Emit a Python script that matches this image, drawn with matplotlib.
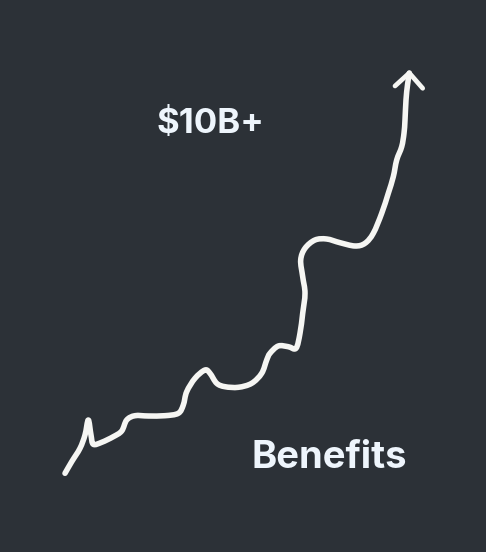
import matplotlib
matplotlib.use('Agg')
import matplotlib.pyplot as plt
from matplotlib.path import Path
from matplotlib.patches import PathPatch

# ====== SETTINGS ======
bg_color = '#2c3137'
line_color = '#f6f6f3'
text_color = '#eef5fc'
# ======================

# hand-drawn growth curve, traced in pixel coords (y grows downward)
curve_x = [65, 71.7, 80, 85, 88.3, 91, 93.3, 101.7, 113.3, 121.7, 126.7, 135, 148.3, 165,
           178.3, 183.3, 186.7, 195, 205, 210, 216.7, 225, 238.3, 251.7, 261.7, 266.7,
           270, 278.3, 288.3, 296, 300, 302.7, 305, 302.7, 300.7, 305, 315, 326.7, 340,
           355, 365, 373.3, 381.7, 388.3, 393.3, 396.7, 401.7, 404, 405, 406, 407.5, 409.3]
curve_y = [473.3, 461.7, 448.3, 435, 420, 435, 444.3, 442.3, 436.7, 431, 420, 415.7, 416, 415.7,
           413.3, 405, 391.7, 378.3, 370, 373.3, 383.3, 386.7, 387.3, 383.3, 373.3, 360,
           353.3, 346, 346.7, 348.3, 333.3, 313.3, 293.3, 276.7, 260, 248.3, 240, 239, 242.7,
           246, 243.3, 233.3, 213.3, 193.3, 176.7, 160, 146.7, 133.3, 120, 100, 85, 73]

head_x = [395, 409.3, 422.7]
head_y = [86, 73, 88.3]

headline = '$10B+'
caption = 'Benefits'


def smooth_path(xs, ys):
    # catmull-rom through the traced points, drawn as cubic bezier pieces
    pts = list(zip(xs, ys))
    verts = [pts[0]]
    codes = [Path.MOVETO]
    n = len(pts)
    for i in range(n - 1):
        p0 = pts[max(i - 1, 0)]
        p1 = pts[i]
        p2 = pts[i + 1]
        p3 = pts[min(i + 2, n - 1)]
        c1 = (p1[0] + (p2[0] - p0[0]) / 6, p1[1] + (p2[1] - p0[1]) / 6)
        c2 = (p2[0] - (p3[0] - p1[0]) / 6, p2[1] - (p3[1] - p1[1]) / 6)
        verts += [c1, c2, p2]
        codes += [Path.CURVE4] * 3
    return Path(verts, codes)


fig = plt.figure(figsize=(4.86, 5.52), dpi=100, facecolor=bg_color)
ax = fig.add_axes([0, 0, 1, 1])
ax.set_facecolor(bg_color)
ax.set_xlim(0, 486)
ax.set_ylim(552, 0)
ax.axis('off')

curve = PathPatch(smooth_path(curve_x, curve_y), facecolor='none', edgecolor=line_color,
                  lw=4.0, capstyle='round', joinstyle='round')
ax.add_patch(curve)
ax.plot(head_x, head_y, color=line_color, lw=3.4,
        solid_capstyle='round', solid_joinstyle='round')

ax.text(210, 132.5, headline, color=text_color, fontsize=25, fontweight='bold',
        family='Inter', ha='center', va='baseline')
ax.text(251, 467.7, caption, color=text_color, fontsize=27.5, fontweight='bold',
        family='Inter', ha='left', va='baseline')

fig.savefig('out.png', dpi=100, facecolor=bg_color)
